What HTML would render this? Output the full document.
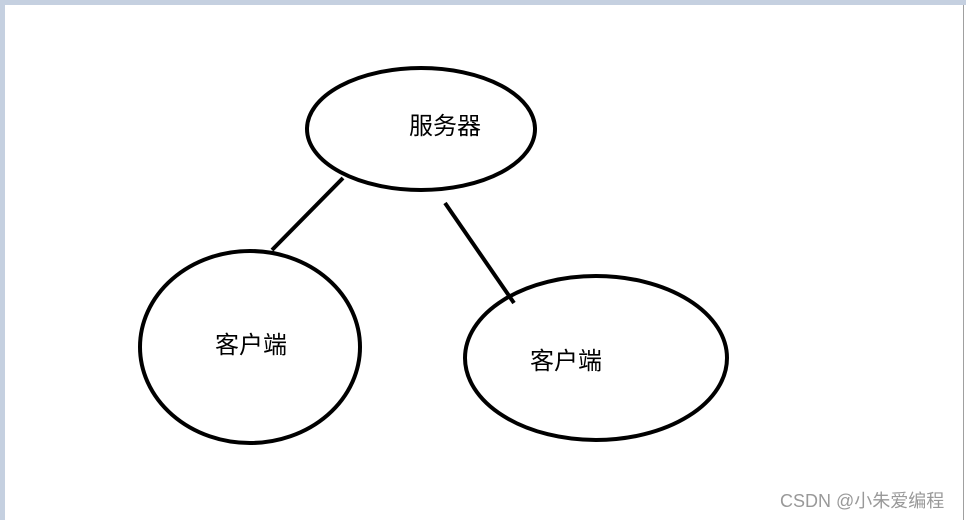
<!DOCTYPE html>
<html><head><meta charset="utf-8"><style>
html,body{margin:0;padding:0;}
body{width:966px;height:520px;overflow:hidden;background:#fff;position:relative;}
.t{position:absolute;font-family:"Liberation Sans","Noto Sans CJK SC",sans-serif;color:#000;font-size:24px;line-height:28px;}
</style></head><body>
<div style="position:absolute;left:0;top:0;width:966px;height:5px;background:#c5d0e0"></div>
<div style="position:absolute;left:0;top:0;width:5px;height:520px;background:#c5d0e0"></div>
<div style="position:absolute;left:963px;top:5px;width:1px;height:515px;background:#a0a0a0"></div>
<svg width="966" height="520" style="position:absolute;left:0;top:0">
<g fill="none" stroke="#000" stroke-width="4">
<ellipse cx="421" cy="129" rx="114" ry="61"/>
<ellipse cx="250" cy="347" rx="110" ry="96"/>
<ellipse cx="596" cy="358" rx="131" ry="82"/>
<line x1="272" y1="250" x2="343" y2="178"/>
<line x1="445" y1="203" x2="514" y2="303"/>
</g></svg>
<div class="t" style="left:409px;top:113px">服务器</div>
<div class="t" style="left:215px;top:332px">客户端</div>
<div class="t" style="left:530px;top:348px">客户端</div>
<div class="t" style="left:780px;top:490px;font-size:18px;line-height:22px;color:#999">CSDN @小朱爱编程</div>
</body></html>
